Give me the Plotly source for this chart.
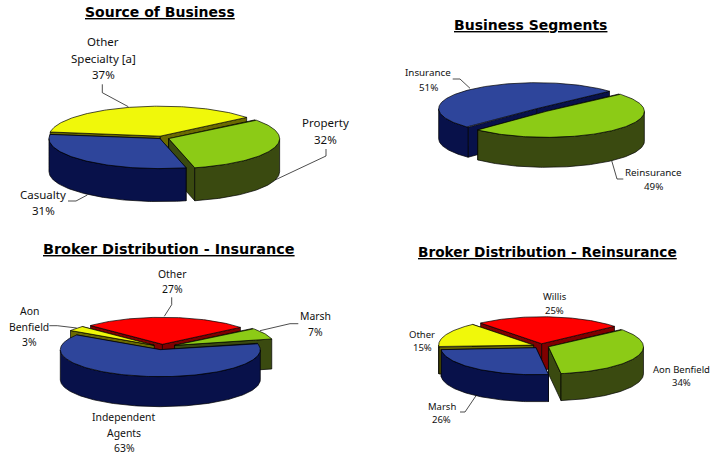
import math
import plotly.graph_objects as go

# ---- data ----
titles = ["Source of Business", "Business Segments",
          "Broker Distribution - Insurance", "Broker Distribution - Reinsurance"]
source_names = ["Other Specialty [a]", "Property", "Casualty"]
source_values = [37, 32, 31]
segment_names = ["Reinsurance", "Insurance"]
segment_values = [49, 51]
broker_ins_names = ["Other", "Marsh", "Independent Agents", "Aon Benfield"]
broker_ins_values = [27, 7, 63, 3]
broker_re_names = ["Willis", "Aon Benfield", "Marsh", "Other"]
broker_re_values = [25, 34, 26, 15]

# ---- styles: (top colour, wall colour) ----
YEL = ("#F0F80A", "#6B6B00")
GRN = ("#8CCB16", "#3A4A10")
BLU = ("#2E459B", "#08114A")
RED = ("#FF0000", "#7F0000")

pies = [
    dict(values=source_values, colors=[YEL, GRN, BLU], cx=162, cy=138, rx=111, ry=30,
         depth=33, start=172, explode=[7, 7, 3]),
    dict(values=segment_values, colors=[GRN, BLU], cx=541.5, cy=110, rx=98, ry=26,
         depth=30, start=42, explode=[7, 7]),
    dict(values=broker_ins_values, colors=[RED, GRN, BLU, YEL], cx=162, cy=347, rx=100, ry=27,
         depth=30, start=136, explode=[10, 14, 10, 10]),
    dict(values=broker_re_values, colors=[RED, GRN, BLU, YEL], cx=541, cy=346, rx=95, ry=27,
         depth=27, start=130, explode=[8, 8, 8, 8]),
]

fig = go.Figure()


def poly(xs, ys, color):
    fig.add_trace(go.Scatter(x=xs + xs[:1], y=ys + ys[:1], mode="lines", fill="toself",
                             fillcolor=color, line=dict(color="#000000", width=0.7),
                             hoverinfo="skip", showlegend=False))


def draw_pie(p):
    total = sum(p["values"])
    a = p["start"]
    slices = []
    for v, c, e in zip(p["values"], p["colors"], p["explode"]):
        span = 360 * v / total
        slices.append((a, a - span, c, e))
        a -= span
    slices.sort(key=lambda s: -math.sin(math.radians((s[0] + s[1]) / 2)))
    rx, ry, d = p["rx"], p["ry"], p["depth"]
    for a1, a2, (top, wall), e in slices:
        mid = math.radians((a1 + a2) / 2)
        ax = p["cx"] + e * math.cos(mid)
        ay = p["cy"] - e * ry / rx * math.sin(mid)
        pt = lambda t: (ax + rx * math.cos(math.radians(t)), ay - ry * math.sin(math.radians(t)))
        n = max(2, int(a1 - a2) + 1)
        ts = [a1 + (a2 - a1) * i / (n - 1) for i in range(n)]
        edges = sorted([a1, a2], key=lambda t: pt(t)[1])
        for t in edges:
            x, y = pt(t)
            poly([ax, x, x, ax], [ay, y, y + d, ay + d], wall)
        run = []
        for t in ts + [None]:
            if t is not None and math.sin(math.radians(t)) <= 0:
                run.append(t)
            else:
                if len(run) > 1:
                    tx, ty = zip(*[pt(u) for u in run])
                    poly(list(tx) + list(tx[::-1]),
                         list(ty) + [v + d for v in ty[::-1]], wall)
                run = []
        tx, ty = zip(*[pt(u) for u in ts])
        poly([ax] + list(tx), [ay] + list(ty), top)


for p in pies:
    draw_pie(p)

# ---- leader lines ----
leaders = [
    [(102.3, 84.3), (102.3, 92.7), (128.3, 106.7)],
    [(326, 149), (326, 156), (275, 180)],
    [(68, 201), (76, 201), (87.3, 195)],
    [(452.7, 79), (460, 79), (470, 88.3)],
    [(611.7, 160.7), (617, 179), (623.3, 179)],
    [(171.7, 297.3), (171.7, 304.7), (164.3, 316.3)],
    [(298.3, 323.7), (290, 323.7), (260, 330.7)],
    [(49.3, 325.7), (57.3, 325.7), (76.7, 328)],
    [(460, 412), (465, 412), (476.7, 394.7)],
]
for l in leaders:
    fig.add_trace(go.Scatter(x=[q[0] for q in l], y=[q[1] for q in l], mode="lines",
                             line=dict(color="#000000", width=0.7), hoverinfo="skip",
                             showlegend=False))

# ---- text ----
LABEL = "Noto Sans"
labels = [
    (["Other", "Specialty [a]", "37%"], 103, 58, 11.5, 16.7),
    (["Property", "32%"], 325, 131, 11.5, 16.5),
    (["Casualty", "31%"], 43, 202, 11.5, 16),
    (["Insurance", "51%"], 428, 80, 9.8, 14.5),
    (["Reinsurance", "49%"], 653, 179, 9.8, 14),
    (["Other", "27%"], 172, 281, 10.4, 15),
    (["Marsh", "7%"], 315, 324, 10.4, 15.3),
    (["Aon", "Benfield", "3%"], 29, 326.5, 10.4, 15.5),
    (["Independent", "Agents", "63%"], 124, 432.5, 10.4, 15.5),
    (["Willis", "25%"], 554.5, 303, 9.5, 14),
    (["Other", "15%"], 422, 341, 9.5, 12.5),
    (["Aon Benfield", "34%"], 681, 376, 9.5, 12.5),
    (["Marsh", "26%"], 441.7, 413, 9.5, 12.5),
]
for lines, x, y, size, pitch in labels:
    for i, line in enumerate(lines):
        fig.add_annotation(x=x, y=y + (i - (len(lines) - 1) / 2) * pitch, text=line,
                           showarrow=False, xref="x", yref="y",
                           xanchor="center", yanchor="middle",
                           font=dict(family=LABEL, size=size, color="#111111"))

title_pos = [(160, 12), (530, 25), (169, 249), (547.5, 252)]
title_size = [14, 14, 14.4, 13.7]
for t, (x, y), s in zip(titles, title_pos, title_size):
    fig.add_annotation(x=x, y=y, text="<b>" + t + "</b>", showarrow=False, xref="x", yref="y",
                       xanchor="center", yanchor="middle",
                       font=dict(family="DejaVu Sans", size=s, color="#000000", lineposition="under"))

fig.update_layout(width=720, height=456, margin=dict(l=0, r=0, t=0, b=0),
                  paper_bgcolor="#FFFFFF", plot_bgcolor="#FFFFFF", showlegend=False,
                  xaxis=dict(range=[0, 720], visible=False, fixedrange=True),
                  yaxis=dict(range=[456, 0], visible=False, fixedrange=True))
fig.write_html("out.html", config={"displayModeBar": False},
               post_script="document.body.style.margin='0';")
